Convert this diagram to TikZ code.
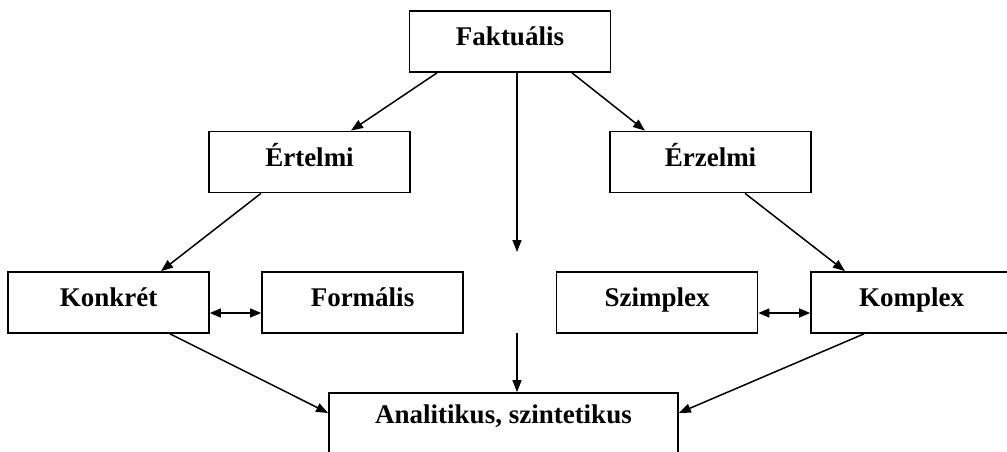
\documentclass[tikz,border=0pt]{standalone}
\usepackage{fontspec}
\setmainfont{Liberation Serif}
\usetikzlibrary{arrows.meta}
\begin{document}
\begin{tikzpicture}[x=1pt,y=-1pt,
  lbl/.style={font=\fontsize{27}{30}\selectfont\bfseries},
  box/.style={lbl,draw,line width=1.7pt,minimum width=201pt,minimum height=61pt,inner sep=0pt,
    text height=18pt,text depth=10pt},
  conn/.style={line width=1.5pt,-{Triangle[length=12pt,width=9pt]}},
  dconn/.style={line width=1.5pt,{Triangle[length=11pt,width=9pt]}-{Triangle[length=11pt,width=9pt]}}]
\useasboundingbox (0,0) rectangle (1007,452);
\clip (0,0) rectangle (1007,452);
\node[box] (fakt) at (510,41.5) {Faktuális};
\node[box] (ert) at (309.5,162) {Értelmi};
\node[box] (erz) at (710.5,162) {Érzelmi};
\node[box] (konk) at (108.5,302.5) {Konkrét};
\node[box] (form) at (362.5,302.5) {Formális};
\node[box] (szim) at (657,302.5) {Szimplex};
\node[box] (komp) at (911.5,302.5) {Komplex};
\node[box,minimum width=349pt,minimum height=90pt] (ana) at (503.5,438) {};
\node[lbl,inner sep=0pt] (analbl) at (503.5,416) {Analitikus, szintetikus};
\coordinate (mid) at (517,252);
\coordinate (mid2) at (517,333);
\draw[conn] (fakt.south -| 437,0) -- (ert.north -| 351,0);
\draw[conn] (fakt.south -| 572,0) -- (erz.north -| 645,0);
\draw[conn] (fakt.south -| mid) -- (mid);
\draw[conn] (mid2) -- (ana.north -| mid2);
\draw[conn] (ert.south -| 261,0) -- (konk.north -| 161,0);
\draw[conn] (erz.south -| 745,0) -- (komp.north -| 845,0);
\draw[conn] (konk.south -| 170,0) -- (ana.west |- 0,413);
\draw[conn] (komp.south -| 864,0) -- (ana.east |- 0,413);
\draw[dconn] (konk.east |- 0,313) -- (form.west |- 0,313);
\draw[dconn] (szim.east |- 0,313) -- (komp.west |- 0,313);
\end{tikzpicture}
\end{document}
